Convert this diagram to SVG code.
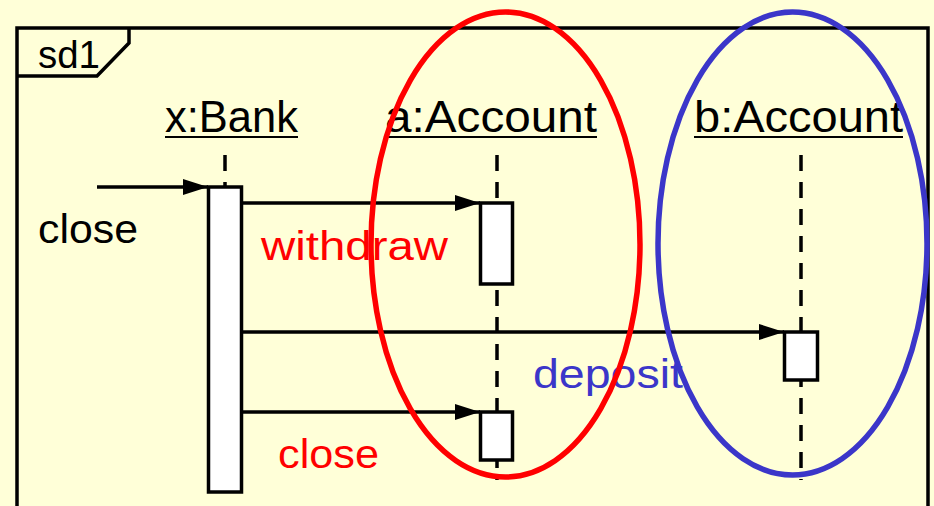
<svg xmlns="http://www.w3.org/2000/svg" width="934" height="506" viewBox="0 0 934 506">
  <defs>
    <marker id="arrow" markerUnits="userSpaceOnUse" markerWidth="26" markerHeight="16" refX="25" refY="8" orient="auto">
      <path d="M0,0 L25,8 L0,16 Z" fill="#000"/>
    </marker>
    <style>
      text { font-family: "Liberation Sans", Arial, sans-serif; }
      .frame { fill: none; stroke: #000; stroke-width: 3.5; }
      .head { font-size: 44px; fill: #000; }
      .uline { stroke: #000; stroke-width: 2; }
      .life { stroke: #000; stroke-width: 3.5; stroke-dasharray: 16 11; }
      .act { fill: #fff; stroke: #000; stroke-width: 3.5; }
      .msg { stroke: #000; stroke-width: 3.5; fill: none; marker-end: url(#arrow); }
      .lbl { font-size: 40px; }
      .ring { fill: none; stroke-width: 5.5; }
    </style>
  </defs>

  <rect width="934" height="506" fill="#FFFFD8"/>

  <!-- interaction frame with name tab -->
  <g id="frame">
    <path class="frame" d="M17,510 L17,28 L928,28 L928,510"/>
    <path class="frame" d="M17,76 L97,76 L129,43 L129,28"/>
    <text x="38" y="68" font-size="38" textLength="62" lengthAdjust="spacingAndGlyphs">sd1</text>
  </g>

  <!-- lifeline x:Bank -->
  <g id="bank">
    <text class="head" x="165" y="132" textLength="133" lengthAdjust="spacingAndGlyphs">x:Bank</text>
    <line class="uline" x1="165" y1="137" x2="298" y2="137"/>
    <line class="life" x1="225" y1="155" x2="225" y2="187"/>
    <rect class="act" x="208.5" y="187" width="33" height="305"/>
  </g>

  <!-- lifeline a:Account -->
  <g id="accountA">
    <text class="head" x="385" y="132" textLength="212" lengthAdjust="spacingAndGlyphs">a:Account</text>
    <line class="uline" x1="385" y1="137" x2="597" y2="137"/>
    <line class="life" x1="497" y1="155" x2="497" y2="480"/>
    <rect class="act" x="480.5" y="203" width="32" height="81"/>
    <rect class="act" x="480.5" y="412" width="32" height="48"/>
  </g>

  <!-- lifeline b:Account -->
  <g id="accountB">
    <text class="head" x="694" y="132" textLength="209" lengthAdjust="spacingAndGlyphs">b:Account</text>
    <line class="uline" x1="694" y1="137" x2="903" y2="137"/>
    <line class="life" x1="801" y1="155" x2="801" y2="480"/>
    <rect class="act" x="784.5" y="332" width="33" height="48"/>
  </g>

  <!-- messages -->
  <g id="connectors">
    <line class="msg" x1="97" y1="187" x2="208" y2="187"/>
    <line class="msg" x1="242" y1="203" x2="480" y2="203"/>
    <line class="msg" x1="242" y1="332" x2="784" y2="332"/>
    <line class="msg" x1="242" y1="412" x2="480" y2="412"/>
  </g>

  <g id="labels">
    <text class="lbl" x="38" y="243" fill="#000" textLength="100" lengthAdjust="spacingAndGlyphs">close</text>
    <text class="lbl" x="261" y="260" fill="#FF0000" textLength="187" lengthAdjust="spacingAndGlyphs">withdraw</text>
    <text class="lbl" x="533" y="388" fill="#3B36C9" textLength="150" lengthAdjust="spacingAndGlyphs">deposit</text>
    <text class="lbl" x="278" y="468" fill="#FF0000" textLength="101" lengthAdjust="spacingAndGlyphs">close</text>
  </g>

  <!-- highlight rings -->
  <g id="rings">
    <ellipse class="ring" stroke="#FF0000" cx="505.5" cy="244.5" rx="134.5" ry="232.5"/>
    <ellipse class="ring" stroke="#3B36C9" cx="792.5" cy="243.5" rx="134.5" ry="231.5"/>
  </g>
</svg>
